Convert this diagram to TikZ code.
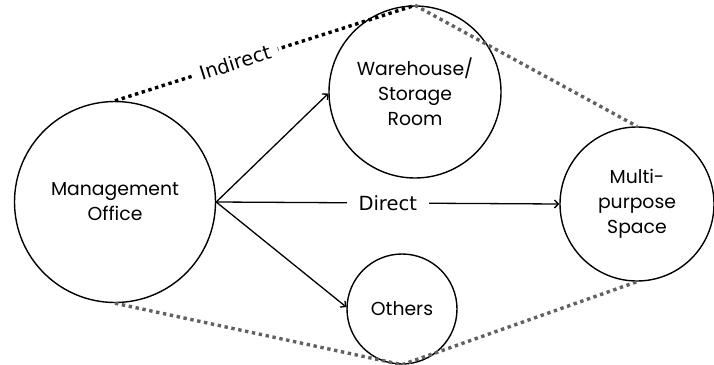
\documentclass[tikz,border=0pt]{standalone}
\usepackage{fontspec}
\setmainfont{Poppins}
\newfontfamily\labelfont{DejaVu Sans}
\usetikzlibrary{arrows.meta}
\begin{document}
\begin{tikzpicture}[x=1pt,y=-1pt,
  place/.style={circle,draw,line width=1.4pt,inner sep=0pt,align=center,font=\fontsize{18.8}{25}\selectfont},
  linklabel/.style={fill=white,font=\labelfont\fontsize{19.5}{22}\selectfont},
  flow/.style={line width=1.3pt,-{Straight Barb[length=4pt,width=8pt]}},
  linkdots/.style={line width=3.4pt,dash pattern=on 3.4pt off 3.6pt},
  greydots/.style={linkdots,draw=black!62}]
\useasboundingbox (0,0) rectangle (714,364);
\node[place,minimum size=201pt] (mo) at (115,202) {Management\\Office};
\node[place,minimum size=172pt] (wh) at (415,92) {Warehouse/\\Storage\\Room};
\node[place,minimum size=110pt] (ot) at (402,309) {Others};
\node[place,minimum size=154pt] (mm) at (637,204) {Multi-\\purpose\\Space};
% direct links
\draw[flow] (mo.east) -- (wh.181);
\draw[flow] (mo.east) -- (ot.178);
\draw[flow] (mo.east) -- node[linklabel,inner xsep=12pt]{Direct} (mm.west);
% indirect links
\draw[greydots] (wh.north) -- (mm.north);
\draw[greydots] (mo.south) -- (ot.south);
\draw[greydots] (ot.south) -- (mm.south);
\draw[linkdots] (mo.north) -- node[linklabel,pos=0.4,sloped,inner xsep=8pt,inner ysep=1pt]{Indirect} (wh.north);
\end{tikzpicture}
\end{document}
